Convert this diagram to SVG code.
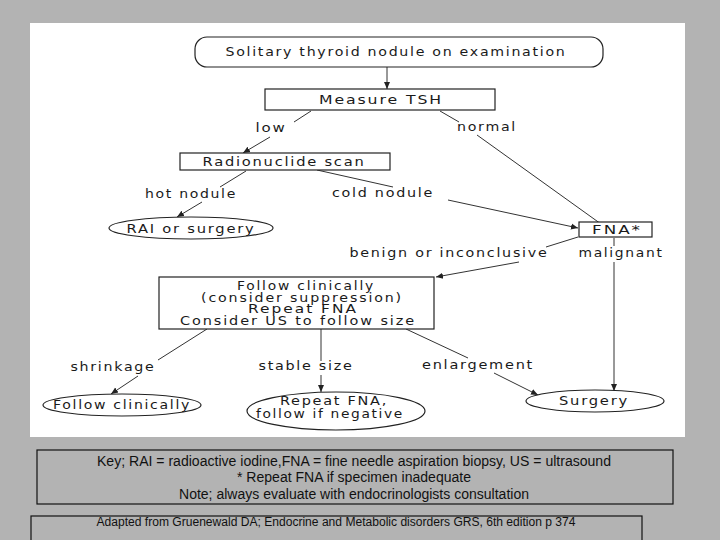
<svg xmlns="http://www.w3.org/2000/svg" width="720" height="540" viewBox="0 0 720 540">
<defs>
<style>
.t{font-family:"DejaVu Sans","Liberation Sans",Arial,sans-serif;font-size:12.5px;letter-spacing:1.5px;fill:#1a1a1a;text-anchor:middle}
.s{font-size:11.5px}
.k{font-family:"Liberation Sans Narrow","Liberation Sans",Arial,sans-serif;font-size:14px;fill:#111;text-anchor:middle}
.a{font-family:"Liberation Sans Narrow","Liberation Sans",Arial,sans-serif;font-size:12px;fill:#111;text-anchor:middle}
.n{fill:#fff;stroke:#222;stroke-width:1.2}
.c line{stroke:#333;stroke-width:1}
.c line.h{marker-end:url(#ah)}
</style>
<marker id="ah" markerWidth="8" markerHeight="8" refX="7" refY="4" orient="auto" markerUnits="userSpaceOnUse">
<path d="M0,1 L7,4 L0,7 Z" fill="#222"/>
</marker>
</defs>
<rect width="720" height="540" fill="#b3b3b3"/>
<rect x="30" y="23" width="655" height="414" fill="#fff"/>

<g class="c" id="connectors">
<line class="h" x1="387" y1="67" x2="387" y2="89"/>
<line x1="311" y1="111" x2="294" y2="122"/>
<line class="h" x1="270" y1="137" x2="243" y2="153"/>
<line x1="440" y1="111" x2="459" y2="122"/>
<line class="h" x1="477" y1="135" x2="608" y2="229"/>
<line x1="246" y1="171" x2="220" y2="187"/>
<line class="h" x1="202" y1="202" x2="177" y2="217"/>
<line x1="317" y1="170" x2="393" y2="187"/>
<line class="h" x1="448" y1="200" x2="578" y2="228"/>
<line x1="578" y1="237" x2="546" y2="247"/>
<line class="h" x1="519" y1="262" x2="436" y2="277"/>
<line x1="614" y1="238" x2="614" y2="246"/>
<line class="h" x1="614" y1="262" x2="614" y2="391"/>
<line x1="207" y1="329" x2="158" y2="360"/>
<line class="h" x1="138" y1="376" x2="111" y2="394"/>
<line x1="321" y1="329" x2="321" y2="361"/>
<line class="h" x1="321" y1="375" x2="321" y2="392"/>
<line x1="406" y1="329" x2="468" y2="358"/>
<line class="h" x1="494" y1="373" x2="538" y2="395"/>
</g>

<g id="start">
<rect class="n" x="195" y="37" width="408" height="30" rx="12" ry="12"/>
<text class="t" x="396" y="56" textLength="341" lengthAdjust="spacingAndGlyphs">Solitary thyroid nodule on examination</text>
</g>
<g id="tsh">
<rect class="n" x="265" y="89" width="230" height="21"/>
<text class="t" x="381" y="104" textLength="124" lengthAdjust="spacingAndGlyphs">Measure TSH</text>
</g>
<g id="label-low"><text class="t" x="271" y="132" textLength="31" lengthAdjust="spacingAndGlyphs">low</text></g>
<g id="label-normal"><text class="t" x="487" y="131" textLength="60" lengthAdjust="spacingAndGlyphs">normal</text></g>
<g id="scan">
<rect class="n" x="180" y="153" width="210" height="17"/>
<text class="t" x="284" y="166" textLength="163" lengthAdjust="spacingAndGlyphs">Radionuclide scan</text>
</g>
<g id="label-hot"><text class="t" x="191" y="198" textLength="92" lengthAdjust="spacingAndGlyphs">hot nodule</text></g>
<g id="label-cold"><text class="t" x="383" y="197" textLength="102" lengthAdjust="spacingAndGlyphs">cold nodule</text></g>
<g id="rai">
<ellipse class="n" cx="191" cy="228" rx="82" ry="11"/>
<text class="t" x="191" y="233" textLength="129" lengthAdjust="spacingAndGlyphs">RAI or surgery</text>
</g>
<g id="fna">
<rect class="n" x="579" y="222" width="73" height="15"/>
<text class="t" x="617" y="234" textLength="50" lengthAdjust="spacingAndGlyphs">FNA*</text>
</g>
<g id="label-benign"><text class="t" x="449" y="257" textLength="199" lengthAdjust="spacingAndGlyphs">benign or inconclusive</text></g>
<g id="label-malignant"><text class="t" x="621" y="257" textLength="85" lengthAdjust="spacingAndGlyphs">malignant</text></g>
<g id="follow">
<rect class="n" x="159" y="277" width="275" height="52"/>
<text class="t s" x="306" y="290" textLength="138" lengthAdjust="spacingAndGlyphs">Follow clinically</text>
<text class="t s" x="302" y="301.5" textLength="202" lengthAdjust="spacingAndGlyphs">(consider suppression)</text>
<text class="t s" x="303" y="313" textLength="110" lengthAdjust="spacingAndGlyphs">Repeat FNA</text>
<text class="t s" x="298" y="324.5" textLength="236" lengthAdjust="spacingAndGlyphs">Consider US to follow size</text>
</g>
<g id="label-shrinkage"><text class="t" x="113" y="371" textLength="85" lengthAdjust="spacingAndGlyphs">shrinkage</text></g>
<g id="label-stable"><text class="t" x="306" y="370" textLength="95" lengthAdjust="spacingAndGlyphs">stable size</text></g>
<g id="label-enlargement"><text class="t" x="478" y="369" textLength="112" lengthAdjust="spacingAndGlyphs">enlargement</text></g>
<g id="follow2">
<ellipse class="n" cx="122" cy="405" rx="79" ry="11"/>
<text class="t" x="122" y="409" textLength="138" lengthAdjust="spacingAndGlyphs">Follow clinically</text>
</g>
<g id="repeat">
<ellipse class="n" cx="336" cy="411" rx="89" ry="19"/>
<text class="t" x="334" y="405" textLength="108" lengthAdjust="spacingAndGlyphs">Repeat FNA,</text>
<text class="t" x="330" y="418" textLength="148" lengthAdjust="spacingAndGlyphs">follow if negative</text>
</g>
<g id="surgery">
<ellipse class="n" cx="595" cy="401" rx="69" ry="11"/>
<text class="t" x="594" y="405" textLength="70" lengthAdjust="spacingAndGlyphs">Surgery</text>
</g>

<g id="key">
<rect x="37" y="450" width="636" height="54" fill="none" stroke="#111" stroke-width="1.2"/>
<text class="k" x="354" y="466" textLength="514" lengthAdjust="spacingAndGlyphs">Key; RAI = radioactive iodine,FNA = fine needle aspiration biopsy, US = ultrasound</text>
<text class="k" x="354" y="482" textLength="234" lengthAdjust="spacingAndGlyphs">* Repeat FNA if specimen inadequate</text>
<text class="k" x="354" y="499" textLength="350" lengthAdjust="spacingAndGlyphs">Note; always evaluate with endocrinologists consultation</text>
</g>
<g id="source">
<rect x="31" y="516" width="611" height="30" fill="none" stroke="#111" stroke-width="1.2"/>
<text class="a" x="336" y="526" textLength="479" lengthAdjust="spacingAndGlyphs">Adapted from Gruenewald DA; Endocrine and Metabolic disorders GRS, 6th edition  p 374</text>
</g>
</svg>
